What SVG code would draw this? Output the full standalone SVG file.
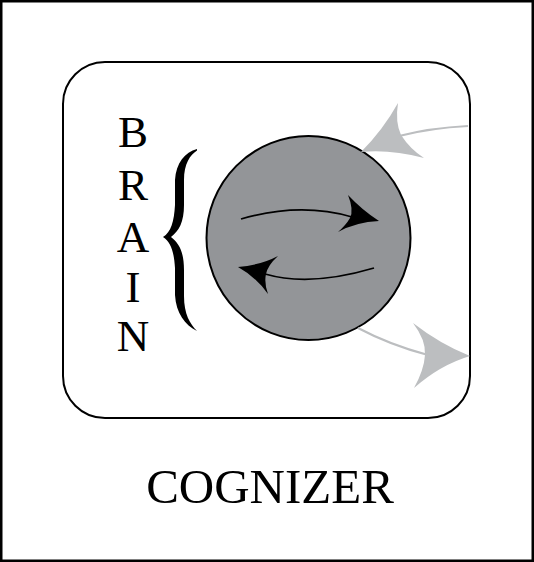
<svg xmlns="http://www.w3.org/2000/svg" width="534" height="562" viewBox="0 0 534 562">
<style>
.frame{fill:#fff;stroke:#000;stroke-width:2.5}
.box{fill:#fff;stroke:#000;stroke-width:2}
.brain{fill:#939598;stroke:#000;stroke-width:2}
.lbl{font-family:"Liberation Serif","Times New Roman",serif;fill:#000;text-anchor:middle}
.gline{fill:none;stroke:#bcbec0;stroke-width:2.2}
.ghead{fill:#bcbec0}
.bline{fill:none;stroke:#000;stroke-width:1.8}
.bhead{fill:#000}
</style>
<rect class="frame" x="1.25" y="1.25" width="531.5" height="559.5"/>
<g id="cognizer">
<rect class="box" x="63" y="62" width="407" height="356" rx="42" ry="42"/>
<text class="lbl" x="270" y="503" font-size="49">COGNIZER</text>
</g>
<g id="brain-label">
<text class="lbl" x="133" y="147" font-size="45">B</text>
<text class="lbl" x="133" y="200" font-size="45">R</text>
<text class="lbl" x="133" y="252" font-size="45">A</text>
<text class="lbl" x="133" y="302" font-size="45">I</text>
<text class="lbl" x="133" y="351" font-size="45">N</text>
<path class="bhead" d="M197,149 C185,152 176,163 175,180 L175,205 C174,222 171,232 163,237 C171,242 174,252 175,268 L175,295 C176,313 185,325 197,331 C190,324 184,314 184,296 L184,270 C184,252 179,243 171,237 C179,231 184,222 184,205 L184,180 C184,164 190,155 197,150.5 Z"/>
</g>
<g id="brain">
<circle class="brain" cx="308.5" cy="238" r="102"/>
</g>
<g id="connectors">
<path class="bline" d="M241,219 Q300,202 352,217"/>
<path class="bhead" d="M379,221 Q362,210 348,195 Q354,210 350,218 Q346,225 338,232 Q356,222 379,221 Z"/>
<path class="bline" d="M374,268 Q310,287 265,274"/>
<path class="bhead" d="M238,267 Q261,265 278,256 Q268,265 266,274 Q264,283 268,294 Q256,277 238,267 Z"/>
<path class="gline" d="M468,126 Q430,128 399,136"/>
<path class="ghead" d="M361,152 Q383,130 398,103 Q395,122 401,135 Q410,149 424,158 Q390,149 361,152 Z"/>
<path class="gline" d="M358,328 Q390,345 428,355"/>
<path class="ghead" d="M470,356 Q440,344 413,323 Q426,340 425,355 Q424,370 414,388 Q440,365 470,356 Z"/>
</g>
</svg>
